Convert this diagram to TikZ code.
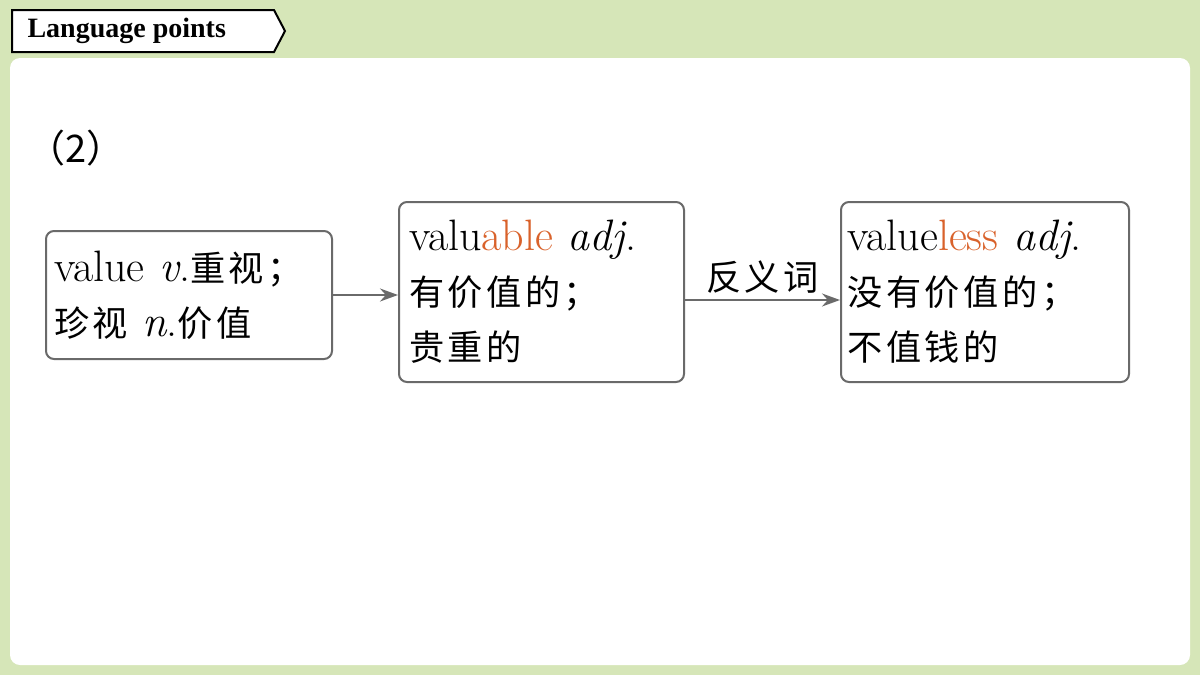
\documentclass[tikz,border=0pt]{standalone}
\usepackage{fontspec}
\setmainfont{Latin Modern Roman}
\newfontfamily\cjk{Noto Sans CJK SC}[Scale=0.80,LetterSpace=10]
\newfontfamily\cjkb{Noto Sans CJK SC}
\newfontfamily\titlef{Liberation Serif}
\definecolor{bg}{HTML}{D6E6B8}
\definecolor{org}{HTML}{D9622B}
\definecolor{bd}{HTML}{6A6A6A}
\usetikzlibrary{arrows.meta}
\begin{document}
\begin{tikzpicture}[x=1pt,y=-1pt,
  wbox/.style={draw=bd,line width=2pt,rounded corners=8pt,align=left,inner xsep=14pt,inner ysep=4pt,font=\fontsize{44}{55}\selectfont,anchor=north west},
  conn/.style={draw=bd,line width=1.8pt,-{Stealth[length=18pt,width=13pt]}}]
\fill[bg] (0,0) rectangle (1200,675);
\fill[white,rounded corners=10pt] (10,58) rectangle (1190,665);
\draw[line width=2pt,fill=white] (12,10) -- (274,10) -- (285,31) -- (274,52) -- (12,52) -- cycle;
\node[anchor=west,font=\titlef\bfseries\fontsize{28}{32}\selectfont] (title) at (24,31) {Language points};
\node[anchor=west,font=\cjkb\fontsize{38}{40}\selectfont] (num) at (24,148) {（2）};
\node[wbox,minimum width=285pt,minimum height=128pt,text width=270pt,inner xsep=8pt] (b1) at (45,230)
  {value \textit{v}.{\cjk 重视；}\\{\cjk 珍视} \textit{n}.{\cjk 价值}};
\node[wbox,minimum width=285pt,minimum height=180pt,text width=265pt,inner xsep=10pt] (b2) at (398,201)
  {valu\textcolor{org}{able} \textit{adj}.\\{\cjk 有价值的；}\\{\cjk 贵重的}};
\node[wbox,minimum width=288pt,minimum height=180pt,text width=275pt,inner xsep=6pt] (b3) at (840,201)
  {value\textcolor{org}{less} \textit{adj}.\\{\cjk 没有价值的；}\\{\cjk 不值钱的}};
\draw[conn] (b1.east) -- (b2.west |- b1.east);
\draw[conn] (b2.east) ++(0,8) coordinate (s) -- (b3.west |- s) node[midway,above=2pt,font=\cjk\fontsize{44}{40}\selectfont] (lbl) {反义词};
\end{tikzpicture}
\end{document}
